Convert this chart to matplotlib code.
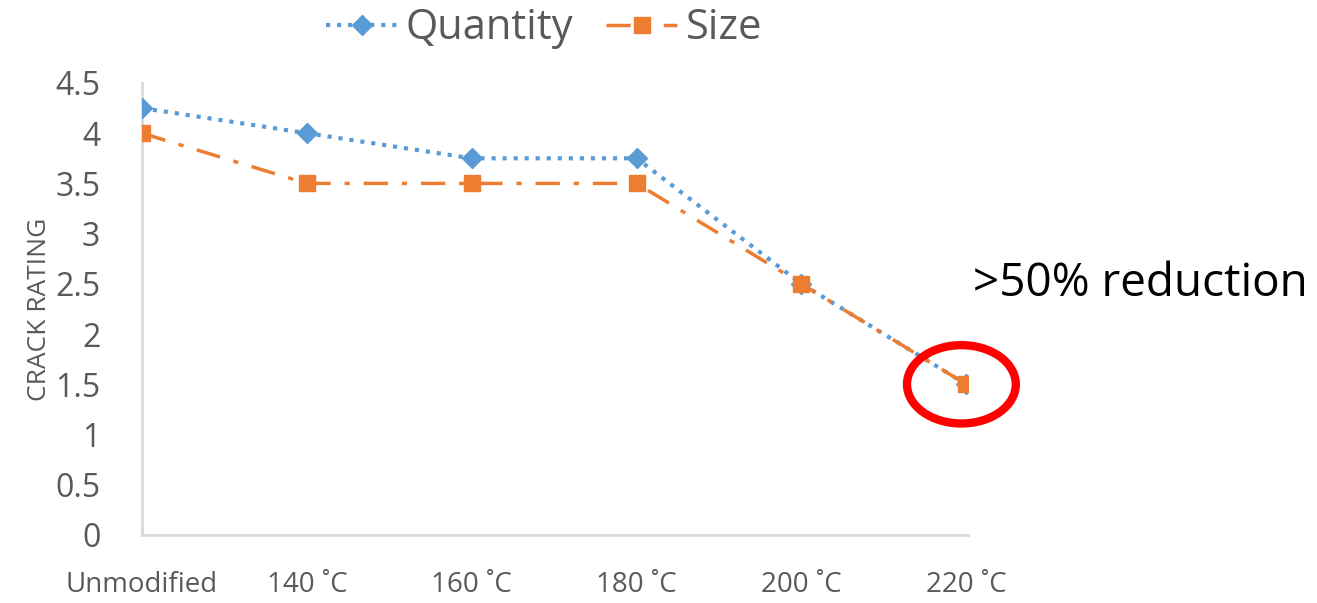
import matplotlib
matplotlib.use('Agg')
from matplotlib import pyplot as plt
from matplotlib.patches import Ellipse

categories = ['Unmodified', '140 ˚C', '160 ˚C', '180 ˚C', '200 ˚C', '220 ˚C']
quantity = [4.25, 4.0, 3.75, 3.75, 2.5, 1.5]
size = [4.0, 3.5, 3.5, 3.5, 2.5, 1.5]

blue = '#5b9bd5'
orange = '#ed7d31'
grey = '#595959'

plt.rcParams['font.family'] = ['Open Sans', 'DejaVu Sans']

fig = plt.figure(figsize=(13.17, 6.03), dpi=100)
ax = fig.add_axes([0.1078, 0.1128, 0.6272, 0.7496])

x = list(range(len(categories)))
ax.plot(x, quantity, color=blue, linestyle=':', linewidth=3, marker='D',
        markersize=10, label='Quantity', zorder=3)
ax.plot(x, size, color=orange, linestyle=(0, (7, 4, 1.5, 4)), linewidth=2.5,
        marker='s', markersize=11, label='Size', zorder=4)

ax.set_xlim(0, 5.01)
ax.set_ylim(0, 4.5)
ax.set_yticks([0, 0.5, 1, 1.5, 2, 2.5, 3, 3.5, 4, 4.5])
ax.set_yticklabels(['0', '0.5', '1', '1.5', '2', '2.5', '3', '3.5', '4', '4.5'])
ax.set_xticks(x)
ax.set_xticklabels(categories)
ax.tick_params(axis='y', length=0, pad=30, labelsize=23, labelcolor=grey)
ax.tick_params(axis='x', length=0, pad=26, labelsize=20, labelcolor=grey)

for side in ['top', 'right']:
    ax.spines[side].set_visible(False)
for side in ['left', 'bottom']:
    ax.spines[side].set_color('#d9d9d9')
    ax.spines[side].set_linewidth(2)

ax.set_ylabel('CRACK RATING', fontsize=19, color=grey, labelpad=2)

# highlight the last point
ring = Ellipse((4.97, 1.5), width=0.66, height=0.78, fill=False,
               edgecolor='#ff0000', linewidth=6, clip_on=False, zorder=5)
ax.add_patch(ring)
ax.text(5.04, 2.5, '>50% reduction', fontsize=33, color='black',
        va='center', ha='left', clip_on=False)

fig.legend(loc='upper center', bbox_to_anchor=(0.413, 1.05), ncol=2,
           frameon=False, fontsize=30, labelcolor=grey, handlelength=1.7,
           columnspacing=0.8, handletextpad=0.2)

plt.savefig('out.png', dpi=100)
